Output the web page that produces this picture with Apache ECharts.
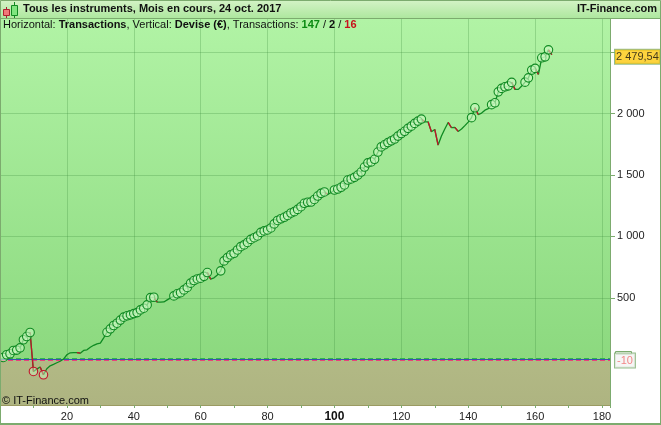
<!DOCTYPE html>
<html><head><meta charset="utf-8">
<style>html,body{margin:0;padding:0;background:#fff}#c{width:661px;height:425px}</style>
<script src="https://cdn.jsdelivr.net/npm/echarts@6/dist/echarts.min.js"></script>
</head><body><div id="c"></div>
<script>
const equity = [15,37,45,72,75,93,159,185,218,-99,-80,-63,-126,-77,-53,-41,-28,-16,2,37,
53,55,55,50,72,77,98,114,126,132,175,220,248,275,294,319,343,354,362,372,
380,402,416,443,502,505,465,465,467,484,500,516,533,542,565,585,620,641,654,660,
675,706,652,663,687,720,801,828,850,863,890,917,931,951,976,990,1004,1033,1045,1053,
1069,1102,1130,1144,1156,1171,1191,1202,1220,1242,1270,1278,1280,1301,1329,1351,1362,1341,1358,1378,
1386,1400,1419,1459,1468,1481,1500,1524,1565,1599,1607,1628,1687,1729,1746,1764,1778,1793,1817,1837,
1856,1880,1898,1920,1939,1955,1933,1933,1852,1871,1744,1817,1874,1928,1885,1888,1855,1874,1902,1931,
1967,2047,1992,2004,2028,2040,2073,2088,2177,2205,2218,2226,2254,2197,2197,2224,2256,2291,2354,2368,
2319,2454,2462,2519,2479.54];
const yTicks = [500,1000,1500,2000,2500];
const yLabelled = [500,1000,1500,2000];
const zeroLines = {green: 7, blue: -2, magenta: -8};
const lastTag = 2479.54, lastLabel = '2 479,54';
const levelTag = -10;
const titleText = 'Tous les instruments, Mois en cours, 24 oct. 2017';
const brand = 'IT-Finance.com';
const copyright = '© IT-Finance.com';
const countWin = 147, countFlat = 2, countLoss = 16;
const xMin = 0, xMax = 182.4, yMin = -372, yMax = 2770;

const FONT = 'Liberation Sans';
const line = equity.map((v, i) => [i + 1, v]);
const highs = [], lows = [];
let hi = 0, lo = 0;
line.forEach(p => {
  if (p[1] > hi) { hi = p[1]; highs.push(p); }
  if (p[1] < lo) { lo = p[1]; lows.push(p); }
});
const redRuns = [];
let run = null;
for (let i = 1; i < line.length; i++) {
  if (line[i][1] < line[i - 1][1]) {
    if (!run) { run = [line[i - 1]]; redRuns.push(run); }
    run.push(line[i]);
  } else run = null;
}
const GREEN = '#0f8a22', RED = '#c4122a', EDGE = '#7cab6e', GRIDC = 'rgba(60,140,60,0.28)';
const series = [
  { type: 'line', data: line, showSymbol: false, symbol: 'none', lineStyle: { color: GREEN, width: 1.3 }, z: 5,
    markArea: { silent: true, itemStyle: { opacity: 1, color: { type: 'linear', x: 0, y: 0, x2: 0, y2: 1,
      colorStops: [{ offset: 0, color: '#b2b985' }, { offset: 1, color: '#aeb481' }] } },
      data: [[{ yAxis: yMin }, { yAxis: levelTag }]] },
    markLine: { silent: true, symbol: 'none', label: { show: false }, animation: false, data: [
      ...yTicks.map(v => ({ yAxis: v, lineStyle: { color: GRIDC, type: 'solid', width: 1 } })),
      { yAxis: zeroLines.green, lineStyle: { color: '#2fb84a', type: [5, 3], width: 1 } },
      { yAxis: zeroLines.blue, lineStyle: { color: '#3a4fb0', type: 'solid', width: 1 } },
      { yAxis: zeroLines.magenta, lineStyle: { color: '#e8427a', type: [5, 3], width: 1 } }
    ] } }
];
redRuns.forEach(r => series.push({ type: 'line', data: r, symbol: 'none', lineStyle: { color: RED, width: 1.3 }, z: 6 }));
series.push({ type: 'scatter', data: highs, symbol: 'circle', symbolSize: 8.5, z: 7,
  itemStyle: { color: 'rgba(205,250,195,0.6)', borderColor: GREEN, borderWidth: 1.1, opacity: 1 } });
series.push({ type: 'scatter', data: lows, symbol: 'circle', symbolSize: 8.5, z: 7,
  itemStyle: { color: 'rgba(205,250,195,0.45)', borderColor: RED, borderWidth: 1.1, opacity: 1 } });
series.push({ type: 'scatter', data: [[xMax, lastTag]], symbolSize: 0, clip: false, silent: true, z: 9,
  label: { show: true, position: 'right', distance: 5, offset: [0, 2], formatter: lastLabel, color: '#111', fontSize: 11,
    fontFamily: FONT, backgroundColor: '#fcc80e', borderColor: EDGE, borderWidth: 1, padding: [2, 1, 1, 1] } });
series.push({ type: 'scatter', data: [[xMax, levelTag]], symbolSize: 0, clip: false, silent: true, z: 9,
  label: { show: true, position: 'right', distance: 5, offset: [0, 0], formatter: String(levelTag), color: '#f06a6a', fontSize: 11,
    fontFamily: FONT, backgroundColor: '#f4f4f4', borderColor: EDGE, borderWidth: 1, padding: [2, 2, 1, 2] } });

const chart = echarts.init(document.getElementById('c'), null, { renderer: 'canvas' });
chart.setOption({
  animation: false,
  title: [
    { text: titleText, left: 23, top: 3, padding: 0, textStyle: { fontFamily: FONT, fontSize: 11, fontWeight: 'bold', color: '#111' } },
    { text: brand, right: 4, top: 3, padding: 0, textStyle: { fontFamily: FONT, fontSize: 11, fontWeight: 'bold', color: '#111' } },
    { text: 'Horizontal: {b|Transactions}, Vertical: {b|Devise (€)}, Transactions: {g|' + countWin + '} / {b|' + countFlat + '} / {r|' + countLoss + '}',
      left: 3, top: 19, padding: 0, textStyle: { fontFamily: FONT, fontSize: 11, fontWeight: 'normal', color: '#111',
        rich: { b: { fontWeight: 'bold', fontSize: 11, fontFamily: FONT, color: '#111' },
                g: { fontWeight: 'bold', fontSize: 11, fontFamily: FONT, color: '#0a8a12' },
                r: { fontWeight: 'bold', fontSize: 11, fontFamily: FONT, color: '#c8101c' } } } },
    { text: copyright, left: 2, top: 395, padding: 0, textStyle: { fontFamily: FONT, fontSize: 11, fontWeight: 'normal', color: '#111' } }
  ],
  grid: { left: 0, right: 51, top: 19, bottom: 20, show: true, borderWidth: 0,
    backgroundColor: { type: 'linear', x: 0, y: 0, x2: 0, y2: 1,
      colorStops: [{ offset: 0, color: '#b1f3a5' }, { offset: 0.88, color: '#8cd97f' }, { offset: 1, color: '#8cd97f' }] } },
  xAxis: { type: 'value', min: xMin, max: xMax, interval: 20,
    axisLine: { show: true, onZero: false, lineStyle: { color: '#9a9a62', width: 1 } },
    axisTick: { show: true, length: 3, lineStyle: { color: EDGE } },
    minorTick: { show: true, splitNumber: 2, length: 3, lineStyle: { color: EDGE } },
    splitLine: { show: true, lineStyle: { color: GRIDC, width: 1 } },
    axisLabel: { margin: 6, color: '#222', fontSize: 11, fontFamily: FONT, showMinLabel: false, showMaxLabel: false,
      formatter: v => v === 100 ? '{b|100}' : (v % 20 === 0 && v > 0 ? String(v) : ''),
      rich: { b: { fontWeight: 'bold', fontSize: 12, fontFamily: FONT, color: '#111' } } } },
  yAxis: { type: 'value', position: 'right', min: yMin, max: yMax,
    axisLine: { show: true, onZero: false, lineStyle: { color: EDGE, width: 1 } },
    axisTick: { show: true, length: 5, customValues: yTicks, lineStyle: { color: EDGE } },
    splitLine: { show: false },
    axisLabel: { margin: 7, color: '#222', fontSize: 11, fontFamily: FONT, customValues: yLabelled,
      formatter: v => String(v).replace(/(\d)(\d{3})$/, '$1 $2') } },
  graphic: [
    { type: 'rect', z: 1, shape: { x: 0, y: 0, width: 661, height: 18 },
      style: { fill: { type: 'linear', x: 0, y: 0, x2: 0, y2: 1, colorStops: [{ offset: 0, color: '#d4f3c6' }, { offset: 1, color: '#aee79f' }] } } },
    { type: 'rect', z: 2, shape: { x: 0, y: 18, width: 661, height: 1 }, style: { fill: EDGE } },
    { type: 'rect', z: 100, shape: { x: 0.5, y: 0.5, width: 660, height: 424 }, style: { fill: 'transparent', stroke: EDGE, lineWidth: 1 } },
    { type: 'rect', z: 100, shape: { x: 0, y: 423, width: 661, height: 2 }, style: { fill: EDGE } },
    { type: 'rect', z: 3, shape: { x: 6, y: 7, width: 1, height: 11 }, style: { fill: '#a02030' } },
    { type: 'rect', z: 4, shape: { x: 3.5, y: 9.5, width: 6, height: 6 }, style: { fill: '#f07878', stroke: '#b02030' } },
    { type: 'rect', z: 3, shape: { x: 14, y: 2, width: 1, height: 16 }, style: { fill: '#118a22' } },
    { type: 'rect', z: 4, shape: { x: 11.5, y: 5.5, width: 6, height: 10 }, style: { fill: '#7fe57f', stroke: '#118a22' } },
    { type: 'rect', z: 8, shape: { x: 615.5, y: 351.5, width: 16, height: 3 }, style: { fill: '#fff', stroke: EDGE } }
  ],
  series: series
});
</script></body></html>
